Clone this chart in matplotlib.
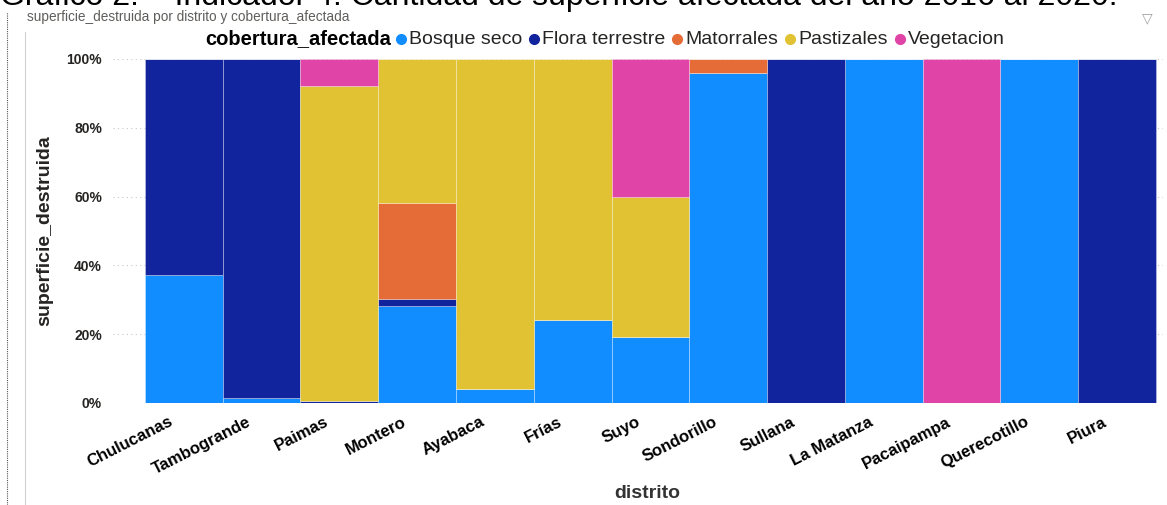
import matplotlib
matplotlib.use("Agg")
import matplotlib.pyplot as plt
import matplotlib.transforms as mtransforms
import numpy as np
from matplotlib.lines import Line2D

# share of superficie_destruida per distrito (percent), one list per cobertura
distritos = ["Chulucanas", "Tambogrande", "Paimas", "Montero", "Ayabaca", "Frías", "Suyo",
             "Sondorillo", "Sullana", "La Matanza", "Pacaipampa", "Querecotillo", "Piura"]
bosque_seco = [37.1, 1.5, 0.0, 28.1, 4.0, 24.1, 19.1, 95.9, 0.0, 100.0, 0.0, 100.0, 0.0]
flora_terrestre = [62.9, 98.5, 0.7, 2.0, 0.0, 0.0, 0.0, 0.0, 100.0, 0.0, 0.0, 0.0, 100.0]
matorrales = [0.0, 0.0, 0.0, 27.9, 0.0, 0.0, 0.0, 4.1, 0.0, 0.0, 0.0, 0.0, 0.0]
pastizales = [0.0, 0.0, 91.5, 42.0, 96.0, 75.9, 40.9, 0.0, 0.0, 0.0, 0.0, 0.0, 0.0]
vegetacion = [0.0, 0.0, 7.8, 0.0, 0.0, 0.0, 40.0, 0.0, 0.0, 0.0, 100.0, 0.0, 0.0]

series = [
    ("Bosque seco", bosque_seco, "#118DFF"),
    ("Flora terrestre", flora_terrestre, "#12239E"),
    ("Matorrales", matorrales, "#E66C37"),
    ("Pastizales", pastizales, "#E1C233"),
    ("Vegetacion", vegetacion, "#E044A7"),
]

FONT = ["Liberation Sans", "DejaVu Sans"]
plt.rcParams["font.family"] = FONT

W, H = 1167, 505
fig = plt.figure(figsize=(W / 100, H / 100), dpi=100)
ax = fig.add_axes([113 / W, 1 - 403 / H, 1050 / W, 344 / H])

x = np.arange(len(distritos))
bottom = np.zeros(len(distritos))
for name, vals, color in series:
    vals = np.array(vals)
    ax.bar(x, vals, width=1.0, bottom=bottom, color=color, edgecolor=(1, 1, 1, 0.35),
           linewidth=0.6, label=name, zorder=2)
    bottom += vals

ax.set_xlim(-0.5 - 0.41, len(distritos) - 0.5 + 0.09)
ax.set_ylim(0, 100)
ax.set_yticks([0, 20, 40, 60, 80, 100])
ax.set_yticklabels([f"{v}%" for v in [0, 20, 40, 60, 80, 100]], fontsize=10,
                   fontweight="bold", color="#252423")
ax.yaxis.grid(True, linestyle=(0, (1, 3)), color="#C8C8C8", linewidth=0.8, zorder=0)
ax.tick_params(axis="y", length=0, pad=8)
ax.tick_params(axis="x", length=0, pad=3)
ax.set_xticks(x)
ax.set_xticklabels(distritos, rotation=27, ha="right", rotation_mode="anchor",
                   fontsize=12, fontweight="bold", color="#000000")
shift = mtransforms.ScaledTranslation(-15 / 100, -7 / 100, fig.dpi_scale_trans)
for lbl in ax.get_xticklabels():
    lbl.set_transform(lbl.get_transform() + shift)
for s in ax.spines.values():
    s.set_visible(False)

ax.set_ylabel("superficie_destruida", fontsize=14, fontweight="bold", color="#252423",
              family=["Liberation Sans Narrow", "Liberation Sans", "DejaVu Sans"])
ax.yaxis.set_label_coords(-60 / 1050, 0.5)
fig.text(647 / W, 1 - 493 / H, "distrito", ha="center", va="center", fontsize=14,
         fontweight="bold", color="#333333")

# partly cut title and visual header
fig.text(0, 1 - 5 / H, "Gráfico 2. – Indicador 4: Cantidad de superficie afectada del año 2016 al 2020.",
         ha="left", va="baseline", fontsize=23, color="#000000")
fig.text(27 / W, 1 - 17 / H, "superficie_destruida por distrito y cobertura_afectada",
         ha="left", va="center", fontsize=9.8, color="#605E5C")
fig.text(1147 / W, 1 - 18 / H, "▽", ha="center", va="center", fontsize=10,
         color="#A0A0A0", family=["DejaVu Sans"])
fig.add_artist(Line2D([7 / W, 7 / W], [0, 1 - 12 / H], transform=fig.transFigure,
                      color="#555555", linestyle=(0, (1, 1)), linewidth=0.8))
fig.add_artist(Line2D([25 / W, 25 / W], [0, 1 - 32 / H], transform=fig.transFigure,
                      color="#D0D0D0", linewidth=0.8))

# legend row, laid out left to right
fig.canvas.draw()
renderer = fig.canvas.get_renderer()
ly = 1 - 39 / H
t = fig.text(205 / W, ly, "cobertura_afectada", ha="left", va="center", fontsize=14.5,
             fontweight="bold", color="#000000")
xpos = t.get_window_extent(renderer).x1 + 6
for name, vals, color in series:
    fig.add_artist(Line2D([(xpos + 4) / W], [ly], transform=fig.transFigure, marker="o",
                          markersize=7, color=color, linestyle="none"))
    t = fig.text((xpos + 12) / W, ly, name, ha="left", va="center", fontsize=14,
                 color="#252423")
    xpos = t.get_window_extent(renderer).x1 + 8

fig.savefig("out.png", dpi=100)
